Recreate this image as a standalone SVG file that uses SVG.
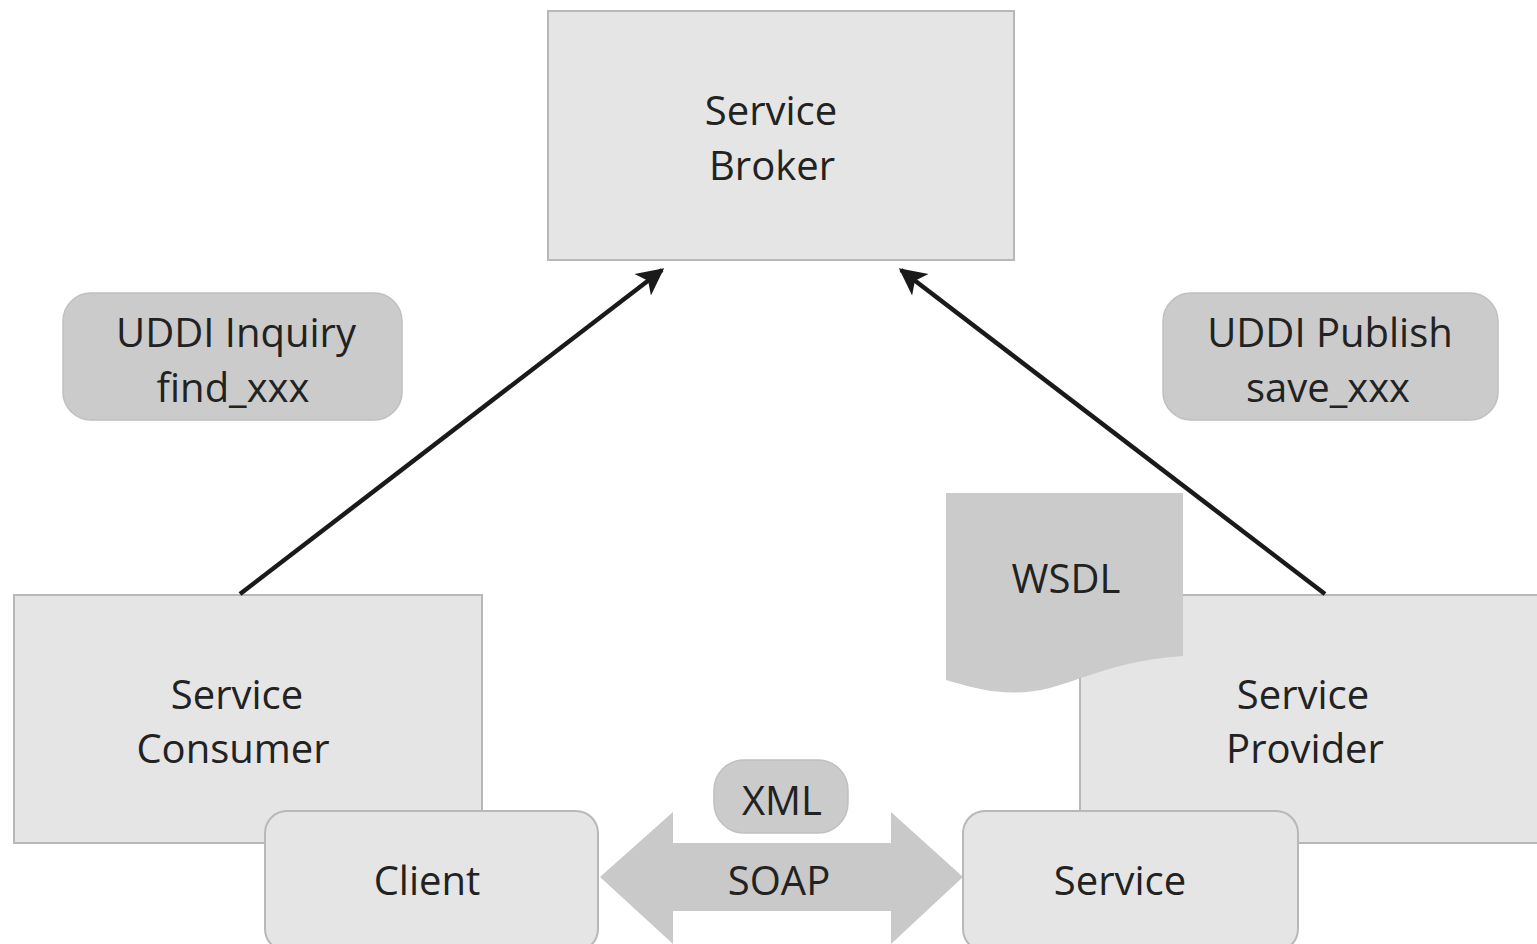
<svg xmlns="http://www.w3.org/2000/svg" width="1537" height="944" viewBox="0 0 1537 944">
<style>
.box{fill:#e5e5e5;stroke:#b8b8b8;stroke-width:2}
.pill{fill:#cbcbcb;stroke:#c0c0c0;stroke-width:1.5}
.t{font-family:"Open Sans","DejaVu Sans",sans-serif;font-size:40px;fill:#222;text-anchor:middle}
.conn{stroke:#1a1a1a;stroke-width:4.5;fill:none;marker-end:url(#ah)}
</style>
<defs>
<marker id="ah" viewBox="0 0 10 10" refX="9" refY="5" markerWidth="7" markerHeight="6" orient="auto" markerUnits="strokeWidth">
<path d="M0,0 L10,5 L0,10 L2.5,5 Z" fill="#1a1a1a"/>
</marker>
</defs>
<rect width="1537" height="944" fill="#ffffff"/>
<g id="broker">
<rect class="box" x="548" y="11" width="466" height="249"/>
<text class="t" x="771" y="125">Service</text>
<text class="t" x="772" y="180">Broker</text>
</g>
<g id="uddi-inquiry">
<rect class="pill" x="63" y="293" width="339" height="127" rx="28"/>
<text class="t" x="236" y="347">UDDI Inquiry</text>
<text class="t" x="233" y="402">find_xxx</text>
</g>
<g id="uddi-publish">
<rect class="pill" x="1163" y="293" width="335" height="127" rx="28"/>
<text class="t" x="1330" y="347">UDDI Publish</text>
<text class="t" x="1328" y="402">save_xxx</text>
</g>
<g id="consumer">
<rect class="box" x="14" y="595" width="468" height="248"/>
<text class="t" x="237" y="709">Service</text>
<text class="t" x="233" y="763">Consumer</text>
</g>
<g id="provider">
<rect class="box" x="1080" y="595" width="470" height="248"/>
<text class="t" x="1303" y="709">Service</text>
<text class="t" x="1305" y="763">Provider</text>
</g>
<g id="wsdl">
<path d="M946,493 L1183,493 L1183,656 C1120,660 1080,680 1050,688 C1010,698 980,690 946,680 Z" fill="#cbcbcb"/>
<text class="t" x="1066" y="593">WSDL</text>
</g>
<g id="soap">
<path d="M600,877 L673,812 L673,843 L891,843 L891,812 L963,877 L891,944 L891,911 L673,911 L673,944 Z" fill="#c9c9c9"/>
<text class="t" x="779" y="895">SOAP</text>
</g>
<g id="xml">
<rect class="pill" x="714" y="760" width="134" height="73" rx="30"/>
<text class="t" x="782" y="815">XML</text>
</g>
<g id="client">
<rect class="box" x="265" y="811" width="333" height="140" rx="22"/>
<text class="t" x="427" y="895">Client</text>
</g>
<g id="service">
<rect class="box" x="963" y="811" width="335" height="140" rx="22"/>
<text class="t" x="1120" y="895">Service</text>
</g>
<g id="connectors">
<line class="conn" x1="240" y1="594" x2="662" y2="270"/>
<line class="conn" x1="1325" y1="594" x2="901" y2="270"/>
</g>
</svg>
